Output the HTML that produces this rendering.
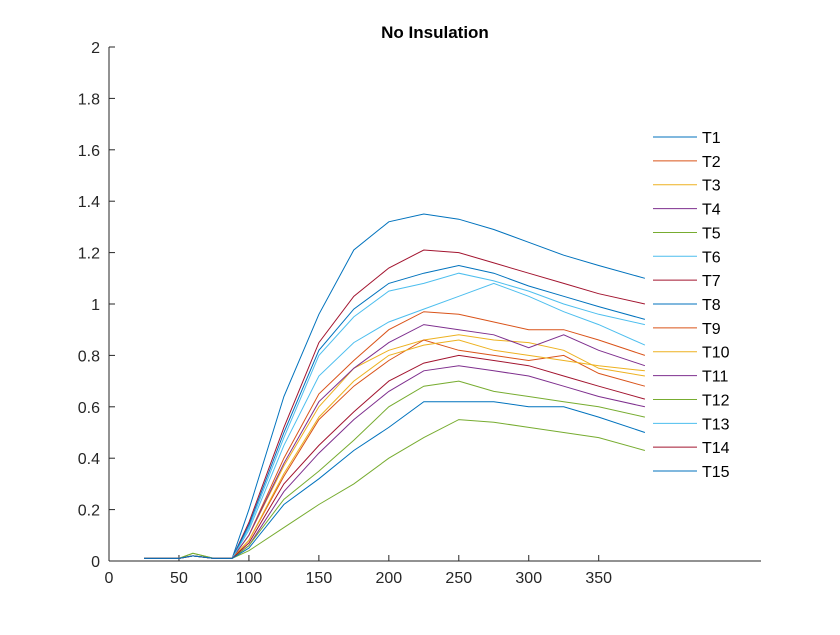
<!DOCTYPE html>
<html><head><meta charset="utf-8"><style>
body{margin:0;background:#fff}
svg{font-family:"Liberation Sans",Arial,sans-serif}
</style></head><body>
<svg id="chart" width="840" height="630" xmlns="http://www.w3.org/2000/svg">
<rect width="840" height="630" fill="#fff"/>
<text x="435" y="38" text-anchor="middle" font-size="17" font-weight="bold" fill="#000">No Insulation</text>
<g id="axes"></g>
<g id="series"></g>
<g id="legend"></g>
</svg>
<script>
const xTicks=[0,50,100,150,200,250,300,350];
const yTicks=[0,0.2,0.4,0.6,0.8,1,1.2,1.4,1.6,1.8,2];
const xs=[25,50,60,75,88,100,125,150,175,200,225,250,275,300,325,350,383];
const seriesNames=["T1","T2","T3","T4","T5","T6","T7","T8","T9","T10","T11","T12","T13","T14","T15"];
const colors=["#0072BD","#D95319","#EDB120","#7E2F8E","#77AC30","#4DBEEE","#A2142F","#0072BD","#D95319","#EDB120","#7E2F8E","#77AC30","#4DBEEE","#A2142F","#0072BD"];
const T1=[0.01,0.01,0.02,0.01,0.01,0.2,0.64,0.96,1.21,1.32,1.35,1.33,1.29,1.24,1.19,1.15,1.10];
const T2=[0.01,0.01,0.02,0.01,0.01,0.1,0.4,0.65,0.78,0.9,0.97,0.96,0.93,0.9,0.9,0.86,0.80];
const T3=[0.01,0.01,0.02,0.01,0.01,0.1,0.37,0.6,0.75,0.82,0.86,0.88,0.86,0.85,0.82,0.75,0.72];
const T4=[0.01,0.01,0.02,0.01,0.01,0.1,0.38,0.62,0.75,0.85,0.92,0.9,0.88,0.83,0.88,0.82,0.76];
const T5=[0.01,0.01,0.03,0.01,0.01,0.04,0.13,0.22,0.3,0.4,0.48,0.55,0.54,0.52,0.5,0.48,0.43];
const T6=[0.01,0.01,0.02,0.01,0.01,0.13,0.48,0.8,0.95,1.05,1.08,1.12,1.09,1.05,1.0,0.96,0.92];
const T7=[0.01,0.01,0.02,0.01,0.01,0.15,0.52,0.85,1.03,1.14,1.21,1.2,1.16,1.12,1.08,1.04,1.0];
const T8=[0.01,0.01,0.02,0.01,0.01,0.14,0.5,0.82,0.98,1.08,1.12,1.15,1.12,1.07,1.03,0.99,0.94];
const T9=[0.01,0.01,0.02,0.01,0.01,0.08,0.33,0.55,0.68,0.78,0.86,0.82,0.8,0.78,0.8,0.73,0.68];
const T10=[0.01,0.01,0.02,0.01,0.01,0.08,0.34,0.56,0.7,0.8,0.84,0.86,0.82,0.8,0.78,0.76,0.74];
const T11=[0.01,0.01,0.02,0.01,0.01,0.06,0.27,0.42,0.55,0.66,0.74,0.76,0.74,0.72,0.68,0.64,0.6];
const T12=[0.01,0.01,0.03,0.01,0.01,0.06,0.24,0.35,0.47,0.6,0.68,0.7,0.66,0.64,0.62,0.6,0.56];
const T13=[0.01,0.01,0.02,0.01,0.01,0.12,0.45,0.72,0.85,0.93,0.98,1.03,1.08,1.03,0.97,0.92,0.84];
const T14=[0.01,0.01,0.02,0.01,0.01,0.07,0.3,0.45,0.58,0.7,0.77,0.8,0.78,0.76,0.72,0.68,0.63];
const T15=[0.01,0.01,0.02,0.01,0.01,0.05,0.22,0.32,0.43,0.52,0.62,0.62,0.62,0.6,0.6,0.56,0.5];
const seriesValues=[T1,T2,T3,T4,T5,T6,T7,T8,T9,T10,T11,T12,T13,T14,T15];

const NS="http://www.w3.org/2000/svg";
const X0=109,X1=761,Y0=561,Y1=47,XMAX=466,YMAX=2;
const sx=v=>X0+(X1-X0)*v/XMAX;
const sy=v=>Y0-(Y0-Y1)*v/YMAX;
function mk(tag,attrs,parent){const e=document.createElementNS(NS,tag);for(const k in attrs)e.setAttribute(k,attrs[k]);parent.appendChild(e);return e;}
const axes=document.getElementById('axes');
let l=mk('line',{x1:X0,y1:Y0,x2:X1,y2:Y0,stroke:'#262626','stroke-width':1},axes);


l=mk('line',{x1:X0,y1:Y0,x2:X0,y2:Y1,stroke:'#262626','stroke-width':1},axes);


xTicks.forEach(t=>{
  mk('line',{x1:sx(t),y1:Y0,x2:sx(t),y2:Y0-6,stroke:'#262626'},axes);
  const tx=mk('text',{x:sx(t),y:Y0+22,'text-anchor':'middle','font-size':16,fill:'#262626'},axes);
  tx.textContent=t;
  
  
});
yTicks.forEach(t=>{
  mk('line',{x1:X0,y1:sy(t),x2:X0+6,y2:sy(t),stroke:'#262626'},axes);
  const tx=mk('text',{x:X0-9,y:sy(t)+6,'text-anchor':'end','font-size':16,fill:'#262626'},axes);
  tx.textContent=String(t);
  
  
});
const sg=document.getElementById('series');
seriesValues.forEach((vals,i)=>{
  const d=vals.map((v,j)=>(j?'L':'M')+sx(xs[j]).toFixed(1)+','+sy(v).toFixed(1)).join('');
  const p=mk('path',{d:d,fill:'none',stroke:colors[i],'stroke-width':1},sg);
  
  
});
const lg=document.getElementById('legend');
seriesNames.forEach((n,i)=>{
  const y=137+i*23.86;
  const g=mk('g',{},lg);
  
  
  mk('line',{x1:653,y1:y,x2:697,y2:y,stroke:colors[i],'stroke-width':1},g);
  const t=mk('text',{x:702,y:y+6,'font-size':16,fill:'#000'},g);
  t.textContent=n;
});
</script>
</body></html>
